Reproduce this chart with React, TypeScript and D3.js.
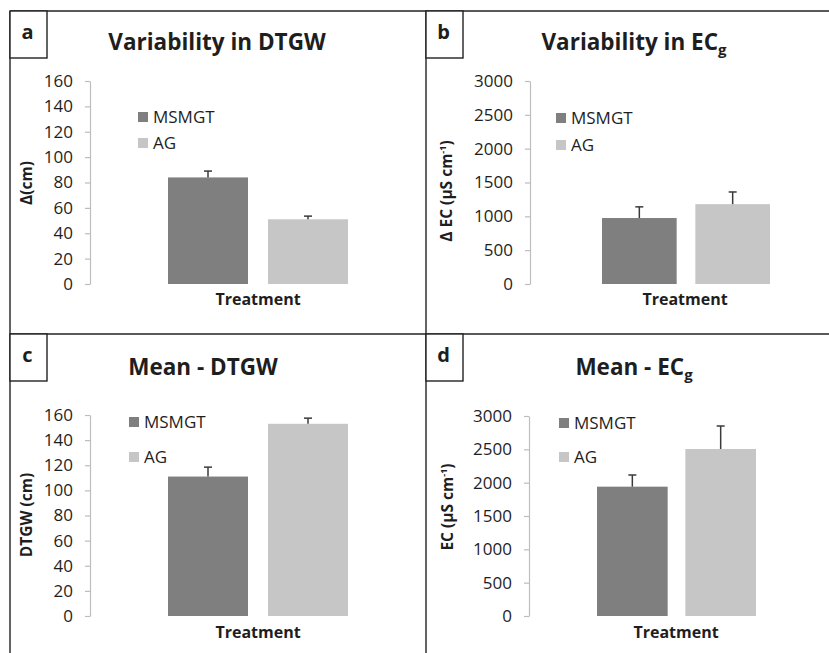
import React, { useRef, useEffect } from "react";
import * as d3 from "d3";

// data
const treatments = ["MSMGT", "AG"];
const barColors = ["#7f7f7f", "#c5c6c5"];

const varDtgw = [84, 51];
const varDtgwErr = [5, 2.5];
const varEc = [975, 1180];
const varEcErr = [165, 180];
const meanDtgw = [111, 153];
const meanDtgwErr = [7.5, 4.5];
const meanEc = [1940, 2505];
const meanEcErr = [175, 345];

const dtgwTicks = [0, 20, 40, 60, 80, 100, 120, 140, 160];
const ecTicks = [0, 500, 1000, 1500, 2000, 2500, 3000];

const FONT = "'Open Sans', sans-serif";
const TEXT = "#1e1e1e";

const panels = [
  {
    letter: "a", title: "Variability in DTGW", titleSub: "", yTitle: "Δ(cm)", ySup: "", ySuffix: "",
    values: varDtgw, errors: varDtgwErr, ticks: dtgwTicks,
    box: [10, 11], titleX: 217, titleY: 50,
    axisX: 90, yTop: 81, yBottom: 284, barRange: [168, 348],
    legendX: 138, legendY: [112, 138], treatX: 258, treatY: 305, yTitleX: 27, yTitleY: 183,
  },
  {
    letter: "b", title: "Variability in EC", titleSub: "g", yTitle: "Δ EC (µS cm", ySup: "-1", ySuffix: ")",
    values: varEc, errors: varEcErr, ticks: ecTicks,
    box: [426, 11], titleX: 634, titleY: 50,
    axisX: 530, yTop: 81, yBottom: 284, barRange: [602, 770],
    legendX: 556, legendY: [113, 140], treatX: 685, treatY: 305, yTitleX: 447, yTitleY: 191,
  },
  {
    letter: "c", title: "Mean - DTGW", titleSub: "", yTitle: "DTGW (cm)", ySup: "", ySuffix: "",
    values: meanDtgw, errors: meanDtgwErr, ticks: dtgwTicks,
    box: [10, 334], titleX: 203, titleY: 375,
    axisX: 90, yTop: 415, yBottom: 616, barRange: [168, 348],
    legendX: 129, legendY: [417, 452], treatX: 258, treatY: 638, yTitleX: 27, yTitleY: 515,
  },
  {
    letter: "d", title: "Mean - EC", titleSub: "g", yTitle: "EC (µS cm", ySup: "-1", ySuffix: ")",
    values: meanEc, errors: meanEcErr, ticks: ecTicks,
    box: [426, 334], titleX: 634, titleY: 375,
    axisX: 529, yTop: 416, yBottom: 616, barRange: [597, 756],
    legendX: 559, legendY: [418, 452], treatX: 676, treatY: 638, yTitleX: 448, yTitleY: 507,
  },
];

const App = () => {
  const svgRef = useRef(null);

  useEffect(() => {
    const svg = d3.select(svgRef.current);
    svg.selectAll("*").remove();

    // frame lines
    const frame = svg.append("g").attr("stroke", "#222").attr("stroke-width", 1.4);
    frame.append("line").attr("x1", 10).attr("x2", 829).attr("y1", 11).attr("y2", 11);
    frame.append("line").attr("x1", 10).attr("x2", 10).attr("y1", 11).attr("y2", 653);
    frame.append("line").attr("x1", 426).attr("x2", 426).attr("y1", 11).attr("y2", 653);
    frame.append("line").attr("x1", 10).attr("x2", 829).attr("y1", 334).attr("y2", 334);

    panels.forEach((p) => {
      const g = svg.append("g");

      // letter box
      g.append("rect")
        .attr("x", p.box[0]).attr("y", p.box[1])
        .attr("width", 37).attr("height", 47)
        .attr("fill", "white").attr("stroke", "#222").attr("stroke-width", 1.4);
      g.append("text")
        .attr("x", p.box[0] + 17.5).attr("y", p.box[1] + 28)
        .attr("text-anchor", "middle")
        .attr("font-family", FONT).attr("font-weight", 700).attr("font-size", 20)
        .attr("fill", TEXT)
        .text(p.letter);

      // title
      const title = g.append("text")
        .attr("x", p.titleX).attr("y", p.titleY)
        .attr("text-anchor", "middle")
        .attr("font-family", FONT).attr("font-weight", 700).attr("font-size", 22.5)
        .attr("fill", TEXT);
      title.append("tspan").text(p.title);
      if (p.titleSub) {
        title.append("tspan").attr("dy", 5).attr("font-size", 15).text(p.titleSub);
      }

      const y = d3.scaleLinear()
        .domain([p.ticks[0], p.ticks[p.ticks.length - 1]])
        .range([p.yBottom, p.yTop]);
      const x = d3.scaleBand()
        .domain(treatments)
        .range(p.barRange)
        .paddingInner(0.2)
        .paddingOuter(0);

      // y axis
      const axis = g.append("g")
        .attr("transform", `translate(${p.axisX},0)`)
        .call(
          d3.axisLeft(y)
            .tickValues(p.ticks)
            .tickFormat(d3.format("d"))
            .tickSizeInner(5)
            .tickSizeOuter(0)
            .tickPadding(12)
        );
      axis.select(".domain").attr("stroke", "#bdbdbd").attr("stroke-width", 1.2);
      axis.selectAll(".tick line").attr("stroke", "#bdbdbd").attr("stroke-width", 1.2);
      axis.selectAll(".tick text")
        .attr("font-family", FONT).attr("font-size", 17).attr("fill", TEXT);

      // bars
      g.selectAll(".bar")
        .data(p.values)
        .enter()
        .append("rect")
        .attr("x", (d, i) => x(treatments[i]))
        .attr("y", (d) => y(d))
        .attr("width", x.bandwidth())
        .attr("height", (d) => y(0) - y(d))
        .attr("fill", (d, i) => barColors[i]);

      // error bars (upper half)
      const err = g.append("g").attr("stroke", "#3a3a3a").attr("stroke-width", 1.5);
      p.values.forEach((v, i) => {
        const cx = x(treatments[i]) + x.bandwidth() / 2;
        const top = y(v + p.errors[i]);
        err.append("line").attr("x1", cx).attr("x2", cx).attr("y1", y(v)).attr("y2", top);
        err.append("line").attr("x1", cx - 4).attr("x2", cx + 4).attr("y1", top).attr("y2", top);
      });

      // legend
      treatments.forEach((t, i) => {
        g.append("rect")
          .attr("x", p.legendX).attr("y", p.legendY[i])
          .attr("width", 10).attr("height", 10)
          .attr("fill", barColors[i]);
        g.append("text")
          .attr("x", p.legendX + 15).attr("y", p.legendY[i] + 10.5)
          .attr("font-family", FONT).attr("font-size", 17).attr("fill", TEXT)
          .text(t);
      });

      // x axis title
      g.append("text")
        .attr("x", p.treatX).attr("y", p.treatY)
        .attr("text-anchor", "middle")
        .attr("font-family", FONT).attr("font-weight", 700).attr("font-size", 16)
        .attr("fill", TEXT)
        .text("Treatment");

      // y axis title
      const yt = g.append("text")
        .attr("transform", `translate(${p.yTitleX},${p.yTitleY}) rotate(-90)`)
        .attr("text-anchor", "middle")
        .attr("dy", "0.35em")
        .attr("font-family", FONT).attr("font-weight", 700).attr("font-size", 15.5)
        .attr("fill", TEXT);
      yt.append("tspan").text(p.yTitle);
      if (p.ySup) {
        yt.append("tspan").attr("dy", -6).attr("font-size", 9).text(p.ySup);
        yt.append("tspan").attr("dy", 6).text(p.ySuffix);
      }
    });

    return () => {
      svg.selectAll("*").remove();
    };
  }, []);

  return (
    <svg
      ref={svgRef}
      width={829}
      height={653}
      style={{ position: "absolute", left: 0, top: 0, background: "white" }}
    />
  );
};

export default App;
